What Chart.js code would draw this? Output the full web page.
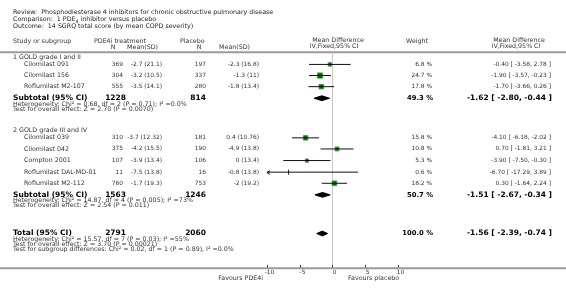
<!DOCTYPE html>
<html>
<head>
<meta charset="utf-8">
<script src="https://cdn.jsdelivr.net/npm/chart.js@4.4.1/dist/chart.umd.min.js"></script>
<style>
  html, body { margin: 0; padding: 0; background: #fff; }
  canvas { display: block; }
</style>
</head>
<body>
<canvas id="forest" width="566" height="296"></canvas>
<script>
// study level data
const studies = ['Cilomilast 091', 'Cilomilast 156', 'Roflumilast M2-107',
  'Cilomilast 039', 'Cilomilast 042', 'Compton 2001', 'Roflumilast DAL-MD-01', 'Roflumilast M2-112'];
const expN = [369, 304, 555, 310, 375, 107, 11, 760];
const expMeanSd = ['-2.7 (21.1)', '-3.2 (10.5)', '-3.5 (14.1)', '-3.7 (12.32)', '-4.2 (15.5)', '-3.9 (13.4)', '-7.5 (13.8)', '-1.7 (19.3)'];
const ctlN = [197, 337, 280, 181, 190, 106, 16, 753];
const ctlMeanSd = ['-2.3 (16.8)', '-1.3 (11)', '-1.8 (13.4)', '0.4 (10.76)', '-4.9 (13.8)', '0 (13.4)', '-0.8 (13.8)', '-2 (19.2)'];
const weights = [6.8, 24.7, 17.8, 15.8, 10.8, 5.3, 0.6, 18.2];
const meanDiff = [-0.40, -1.90, -1.70, -4.10, 0.70, -3.90, -6.70, 0.30];
const ciLow = [-3.58, -3.57, -3.66, -6.18, -1.81, -7.50, -17.29, -1.64];
const ciHigh = [2.78, -0.23, 0.26, -2.02, 3.21, -0.30, 3.89, 2.24];

// subgroups
const groupNames = ['1 GOLD grade I and II', '2 GOLD grade III and IV'];
const subExpN = [1228, 1563];
const subCtlN = [814, 1246];
const subWeight = [49.3, 50.7];
const subMd = [-1.62, -1.51];
const subLow = [-2.80, -2.67];
const subHigh = [-0.44, -0.34];
const subHet = ['Heterogeneity: Chi² = 0.68, df = 2 (P = 0.71); I² =0.0%', 'Heterogeneity: Chi² = 14.87, df = 4 (P = 0.005); I² =73%'];
const subTest = ['Test for overall effect: Z = 2.70 (P = 0.0070)', 'Test for overall effect: Z = 2.54 (P = 0.011)'];

// overall
const totalExpN = 2791;
const totalCtlN = 2060;
const totalWeight = 100.0;
const totalMd = -1.56;
const totalLow = -2.39;
const totalHigh = -0.74;
const totalNotes = ['Heterogeneity: Chi² = 15.57, df = 7 (P = 0.03); I² =55%',
  'Test for overall effect: Z = 3.70 (P = 0.00021)',
  'Test for subgroup differences: Chi² = 0.02, df = 1 (P = 0.89), I² =0.0%'];

const axisTicks = [-10, -5, 0, 5, 10];

// layout (y in canvas pixels, y scale is 0..296 top-down)
const studyY = [61.5, 73, 84.5, 137.5, 149, 161, 173, 184.5];
const headingY = [54, 130];
const subY = [96.5, 196.5];
const hetY = [102.5, 202.5];
const testY = [107.5, 207.5];
const totalY = 236.5;
const totalNoteY = [242.5, 247.5, 252.5];
const ruleY = 49;
const axisY = 272.5;
const clipMin = -10;

const FONT = '"DejaVu Sans", Verdana, sans-serif';
const fmt = v => v.toFixed(2);
const ciText = (m, l, h) => `${fmt(m)} [ ${fmt(l)}, ${fmt(h)} ]`;

const datasets = [];
studies.forEach((s, i) => {
  datasets.push({
    type: 'line',
    data: [{ x: Math.max(ciLow[i], clipMin), y: studyY[i] }, { x: ciHigh[i], y: studyY[i] }],
    borderColor: '#111', borderWidth: 1, pointRadius: 0, fill: false,
  });
});
datasets.push({
  type: 'scatter',
  data: studies.map((s, i) => ({ x: meanDiff[i], y: studyY[i] })),
  pointStyle: weights.map(w => (w < 1 ? 'line' : 'rect')),
  rotation: weights.map(w => (w < 1 ? 90 : 0)),
  pointRadius: weights.map(w => (w < 1 ? 2.5 : (1.4 + 0.75 * Math.sqrt(w)) / 1.414)),
  backgroundColor: '#0b5e0b',
  borderColor: weights.map(w => (w < 1 ? '#111' : '#3a9a3a')),
  borderWidth: 1,
});
const diamonds = [
  ...subMd.map((m, g) => [subLow[g], m, subHigh[g], subY[g]]),
  [totalLow, totalMd, totalHigh, totalY],
];
diamonds.forEach(([l, m, h, y]) => {
  datasets.push({
    type: 'line',
    data: [{ x: l, y }, { x: m, y: y - 2.5 }, { x: h, y }, { x: m, y: y + 2.5 }, { x: l, y }],
    borderColor: '#000', backgroundColor: '#000', borderWidth: 1,
    pointRadius: 0, fill: 'shape',
  });
});

const tablePlugin = {
  id: 'table',
  beforeDatasetsDraw(chart) {
    const { ctx, scales: { x, y } } = chart;
    ctx.save();
    ctx.strokeStyle = '#9a9a9a';
    ctx.lineWidth = 2;
    ctx.beginPath();
    ctx.moveTo(0, y.getPixelForValue(ruleY)); ctx.lineTo(566, y.getPixelForValue(ruleY));
    ctx.moveTo(0, y.getPixelForValue(axisY)); ctx.lineTo(566, y.getPixelForValue(axisY));
    ctx.stroke();
    // line of no effect
    const x0 = Math.round(x.getPixelForValue(0)) + 0.5;
    ctx.strokeStyle = '#c8c8c8';
    ctx.lineWidth = 1;
    ctx.beginPath();
    ctx.moveTo(x0, y.getPixelForValue(ruleY)); ctx.lineTo(x0, y.getPixelForValue(axisY - 1));
    ctx.stroke();
    ctx.restore();
  },
  afterDatasetsDraw(chart) {
    const { ctx, scales: { x, y } } = chart;
    const py = v => y.getPixelForValue(v);
    ctx.save();
    ctx.textBaseline = 'middle';
    const txt = (s, px, yy, align, font, color) => {
      ctx.font = font; ctx.fillStyle = color || '#333'; ctx.textAlign = align || 'left';
      ctx.fillText(s, px, py(yy));
    };
    const norm = `6.3px ${FONT}`;
    const num = `5.9px ${FONT}`;
    const bold = `bold 7.5px ${FONT}`;
    const boldSm = `bold 6.8px ${FONT}`;

    // title block
    txt('Review:  Phosphodiesterase 4 inhibitors for chronic obstructive pulmonary disease', 13, 8, 'left', norm, '#222');
    ctx.font = norm;
    const pre = 'Comparison:  1 PDE';
    txt(pre, 13, 15, 'left', norm, '#222');
    const w1 = ctx.measureText(pre).width;
    txt('4', 13 + w1, 17, 'left', `4.8px ${FONT}`, '#222');
    ctx.font = `4.8px ${FONT}`;
    const w2 = ctx.measureText('4').width;
    txt(' inhibitor versus placebo', 13 + w1 + w2, 15, 'left', norm, '#222');
    txt('Outcome:  14 SGRQ total score (by mean COPD severity)', 13, 22, 'left', norm, '#222');

    // column headers
    txt('Study or subgroup', 13, 38, 'left', norm);
    txt('PDE4i treatment', 94, 38, 'left', norm);
    txt('N', 113, 44, 'center', norm);
    txt('Mean(SD)', 158, 44, 'right', norm);
    txt('Placebo', 180, 38, 'left', norm);
    txt('N', 199, 44, 'center', norm);
    txt('Mean(SD)', 250, 44, 'right', norm);
    txt('Mean Difference', 338, 37, 'center', norm);
    txt('IV,Fixed,95% CI', 334, 43, 'center', norm);
    txt('Weight', 417, 38, 'center', norm);
    txt('Mean Difference', 519, 37, 'center', norm);
    txt('IV,Fixed,95% CI', 516, 43, 'center', norm);

    // study rows
    studies.forEach((s, i) => {
      const yy = studyY[i];
      txt(s, 24, yy, 'left', norm);
      txt(String(expN[i]), 123, yy, 'right', num);
      txt(expMeanSd[i], 162, yy, 'right', num);
      txt(String(ctlN[i]), 206, yy, 'right', num);
      txt(ctlMeanSd[i], 259, yy, 'right', num);
      txt(`${weights[i].toFixed(1)} %`, 432, yy, 'right', num);
      txt(ciText(meanDiff[i], ciLow[i], ciHigh[i]), 551, yy, 'right', num);
      // arrow where the interval runs off the axis
      if (ciLow[i] < clipMin) {
        const ax = x.getPixelForValue(clipMin);
        const ay = Math.round(py(yy)) + 0.5;
        ctx.strokeStyle = '#111'; ctx.lineWidth = 1;
        ctx.beginPath();
        ctx.moveTo(ax + 3, ay - 1.8); ctx.lineTo(ax, ay); ctx.lineTo(ax + 3, ay + 1.8);
        ctx.stroke();
      }
    });

    // subgroup blocks
    groupNames.forEach((g, k) => {
      txt(g, 13, headingY[k], 'left', norm);
      txt('Subtotal (95% CI)', 13, subY[k], 'left', bold, '#000');
      txt(String(subExpN[k]), 126, subY[k], 'right', bold, '#000');
      txt(String(subCtlN[k]), 206, subY[k], 'right', bold, '#000');
      txt(`${subWeight[k].toFixed(1)} %`, 433, subY[k], 'right', boldSm, '#000');
      txt(ciText(subMd[k], subLow[k], subHigh[k]), 552, subY[k], 'right', bold, '#000');
      txt(subHet[k], 13, hetY[k], 'left', norm);
      txt(subTest[k], 13, testY[k], 'left', norm);
    });

    // total
    txt('Total (95% CI)', 13, totalY, 'left', bold, '#000');
    txt(String(totalExpN), 126, totalY, 'right', bold, '#000');
    txt(String(totalCtlN), 206, totalY, 'right', bold, '#000');
    txt(`${totalWeight.toFixed(1)} %`, 433, totalY, 'right', boldSm, '#000');
    txt(ciText(totalMd, totalLow, totalHigh), 552, totalY, 'right', bold, '#000');
    totalNotes.forEach((n, k) => txt(n, 13, totalNoteY[k], 'left', norm));

    // x axis ticks
    ctx.strokeStyle = '#333'; ctx.lineWidth = 1;
    axisTicks.forEach(t => {
      const tx = Math.round(x.getPixelForValue(t)) + 0.5;
      ctx.beginPath();
      ctx.moveTo(tx, py(axisY - 3.5)); ctx.lineTo(tx, py(axisY - 1));
      ctx.stroke();
      txt(String(t), tx + 2, axisY + 4, 'center', num);
    });
    txt('Favours PDE4i', 263, 282.5, 'right', norm);
    txt('Favours placebo', 348, 282.5, 'left', norm);
    ctx.restore();
  },
};

new Chart(document.getElementById('forest'), {
  type: 'scatter',
  data: { datasets },
  options: {
    responsive: false,
    animation: false,
    devicePixelRatio: 1,
    layout: { padding: 0 },
    plugins: { legend: { display: false }, tooltip: { enabled: false } },
    scales: {
      x: { type: 'linear', min: -50, max: 34.9, display: false },
      y: { type: 'linear', min: 0, max: 296, reverse: true, display: false },
    },
  },
  plugins: [tablePlugin],
});
</script>
</body>
</html>
